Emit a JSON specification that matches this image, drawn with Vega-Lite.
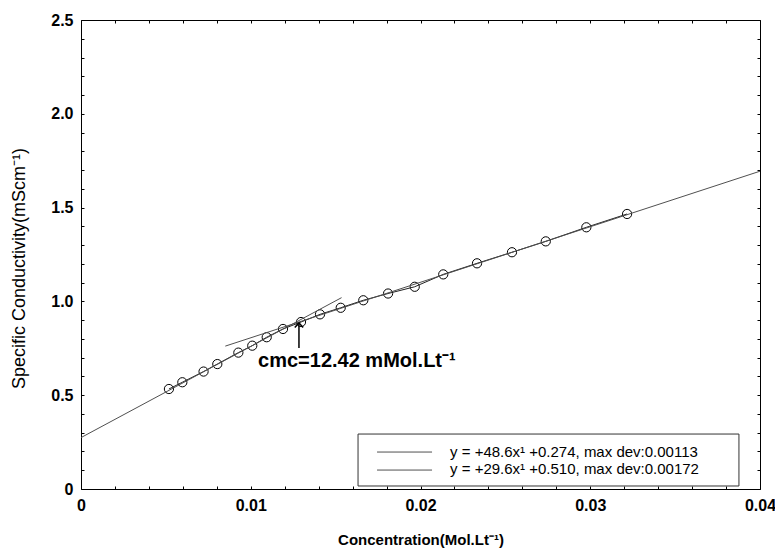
{
  "$schema": "https://vega.github.io/schema/vega-lite/v6.json",
  "width": 679,
  "height": 469,
  "autosize": {"type": "none"},
  "padding": {"left": 81, "top": 20, "right": 15, "bottom": 59},
  "background": "white",
  "config": {
    "view": {"stroke": null},
    "font": "Liberation Sans",
    "axis": {"grid": false, "domainColor": "#000", "tickColor": "#000", "labelColor": "#000", "titleColor": "#000", "labelOverlap": false, "labelFlush": false}
  },
  "datasets": {
    "points": [
      {"c": 0.00518, "k": 0.533},
      {"c": 0.00597, "k": 0.569},
      {"c": 0.00722, "k": 0.626},
      {"c": 0.00803, "k": 0.666},
      {"c": 0.00927, "k": 0.727},
      {"c": 0.01009, "k": 0.764},
      {"c": 0.01094, "k": 0.809},
      {"c": 0.0119, "k": 0.853},
      {"c": 0.01296, "k": 0.89},
      {"c": 0.01408, "k": 0.931},
      {"c": 0.0153, "k": 0.966},
      {"c": 0.01663, "k": 1.006},
      {"c": 0.01809, "k": 1.042},
      {"c": 0.01966, "k": 1.078},
      {"c": 0.02134, "k": 1.144},
      {"c": 0.02333, "k": 1.203},
      {"c": 0.02539, "k": 1.262},
      {"c": 0.02738, "k": 1.32},
      {"c": 0.02977, "k": 1.395},
      {"c": 0.03217, "k": 1.466}
    ],
    "fits": [
      {"fit": "A", "c": 0, "k": 0.274},
      {"fit": "A", "c": 0.01535, "k": 1.02},
      {"fit": "B", "c": 0.0085, "k": 0.7616},
      {"fit": "B", "c": 0.04, "k": 1.694}
    ],
    "legendBox": [
      {"x1": 0.01632, "x2": 0.03876, "y1": 0.016, "y2": 0.293}
    ],
    "legendLines": [
      {"row": "A", "c": 0.01744, "k": 0.197},
      {"row": "A", "c": 0.02068, "k": 0.197},
      {"row": "B", "c": 0.01744, "k": 0.101},
      {"row": "B", "c": 0.02068, "k": 0.101}
    ],
    "legendText": [
      {"c": 0.02174, "k": 0.197, "t": "y = +48.6x¹  +0.274, max dev:0.00113"},
      {"c": 0.02174, "k": 0.108, "t": "y = +29.6x¹  +0.510, max dev:0.00172"}
    ],
    "cmc": [
      {"c": 0.01043, "k": 0.65, "t": "cmc=12.42 mMol.Lt⁻¹"}
    ],
    "arrow": [
      {"c": 0.01284, "k1": 0.752, "k2": 0.885}
    ]
  },
  "layer": [
    {
      "data": {"name": "points"},
      "mark": {"type": "point", "shape": "circle", "filled": false, "size": 85, "stroke": "#000", "strokeWidth": 1, "opacity": 1},
      "encoding": {
        "x": {
          "field": "c", "type": "quantitative",
          "scale": {"domain": [0, 0.04], "nice": false, "zero": false},
          "axis": {
            "orient": "bottom",
            "values": [0, 0.002, 0.004, 0.006, 0.008, 0.01, 0.012, 0.014, 0.016, 0.018, 0.02, 0.022, 0.024, 0.026, 0.028, 0.03, 0.032, 0.034, 0.036, 0.038, 0.04],
            "labelExpr": "abs(datum.value*100-round(datum.value*100))<0.001 ? (datum.value==0 ? '0' : format(datum.value, '.2f')) : ''",
            "tickSize": -3,
            "labelPadding": 11,
            "labelFontSize": 16,
            "labelFontWeight": "bold",
            "title": "Concentration(Mol.Lt⁻¹)",
            "titleFontSize": 15,
            "titleFontWeight": "bold",
            "titlePadding": 19
          }
        },
        "y": {
          "field": "k", "type": "quantitative",
          "scale": {"domain": [0, 2.5], "nice": false, "zero": false},
          "axis": {
            "orient": "left",
            "values": [0, 0.1, 0.2, 0.3, 0.4, 0.5, 0.6, 0.7, 0.8, 0.9, 1.0, 1.1, 1.2, 1.3, 1.4, 1.5, 1.6, 1.7, 1.8, 1.9, 2.0, 2.1, 2.2, 2.3, 2.4, 2.5],
            "labelExpr": "abs(datum.value*2-round(datum.value*2))<0.001 ? (datum.value==0 ? '0' : format(datum.value, '.1f')) : ''",
            "tickSize": -3,
            "labelPadding": 11,
            "labelFontSize": 16,
            "labelFontWeight": "bold",
            "title": "Specific Conductivity(mScm⁻¹)",
            "titleFontSize": 18,
            "titleFontWeight": "normal",
            "titlePadding": 22,
            "titleY": 248
          }
        }
      }
    },
    {
      "data": {"name": "points"},
      "mark": {"type": "point", "opacity": 0},
      "encoding": {
        "x": {
          "field": "c", "type": "quantitative",
          "axis": {
            "orient": "top",
            "values": [0, 0.002, 0.004, 0.006, 0.008, 0.01, 0.012, 0.014, 0.016, 0.018, 0.02, 0.022, 0.024, 0.026, 0.028, 0.03, 0.032, 0.034, 0.036, 0.038, 0.04],
            "labels": false, "tickSize": -3, "title": null
          }
        },
        "y": {
          "field": "k", "type": "quantitative",
          "axis": {
            "orient": "right",
            "values": [0, 0.1, 0.2, 0.3, 0.4, 0.5, 0.6, 0.7, 0.8, 0.9, 1.0, 1.1, 1.2, 1.3, 1.4, 1.5, 1.6, 1.7, 1.8, 1.9, 2.0, 2.1, 2.2, 2.3, 2.4, 2.5],
            "labels": false, "tickSize": -3, "title": null
          }
        }
      }
    },
    {
      "data": {"name": "points"},
      "mark": {"type": "line", "color": "#222", "strokeWidth": 1},
      "encoding": {
        "x": {"field": "c", "type": "quantitative", "axis": null},
        "y": {"field": "k", "type": "quantitative", "axis": null}
      }
    },
    {
      "data": {"name": "fits"},
      "mark": {"type": "line", "color": "#505050", "strokeWidth": 1},
      "encoding": {
        "x": {"field": "c", "type": "quantitative", "axis": null},
        "y": {"field": "k", "type": "quantitative", "axis": null},
        "detail": {"field": "fit"}
      }
    },
    {
      "data": {"name": "legendBox"},
      "mark": {"type": "rect", "fill": "white", "stroke": "#333", "strokeWidth": 1},
      "encoding": {
        "x": {"field": "x1", "type": "quantitative", "axis": null},
        "x2": {"field": "x2"},
        "y": {"field": "y1", "type": "quantitative", "axis": null},
        "y2": {"field": "y2"}
      }
    },
    {
      "data": {"name": "legendLines"},
      "mark": {"type": "line", "color": "#505050", "strokeWidth": 1},
      "encoding": {
        "x": {"field": "c", "type": "quantitative", "axis": null},
        "y": {"field": "k", "type": "quantitative", "axis": null},
        "detail": {"field": "row"}
      }
    },
    {
      "data": {"name": "legendText"},
      "mark": {"type": "text", "align": "left", "baseline": "middle", "fontSize": 15, "font": "Liberation Sans", "color": "#000"},
      "encoding": {
        "x": {"field": "c", "type": "quantitative", "axis": null},
        "y": {"field": "k", "type": "quantitative", "axis": null},
        "text": {"field": "t"}
      }
    },
    {
      "data": {"name": "cmc"},
      "mark": {"type": "text", "align": "left", "baseline": "alphabetic", "fontSize": 20, "fontWeight": "bold", "font": "Liberation Sans", "color": "#000"},
      "encoding": {
        "x": {"field": "c", "type": "quantitative", "axis": null},
        "y": {"field": "k", "type": "quantitative", "axis": null},
        "text": {"field": "t"}
      }
    },
    {
      "data": {"name": "arrow"},
      "mark": {"type": "rule", "color": "#000", "strokeWidth": 1.5},
      "encoding": {
        "x": {"field": "c", "type": "quantitative", "axis": null},
        "y": {"field": "k1", "type": "quantitative", "axis": null},
        "y2": {"field": "k2"}
      }
    },
    {
      "data": {"name": "arrow"},
      "mark": {"type": "point", "shape": "M-1,1.1 L0,0 L1,1.1", "filled": false, "stroke": "#000", "strokeWidth": 1.5, "size": 70, "opacity": 1},
      "encoding": {
        "x": {"field": "c", "type": "quantitative", "axis": null},
        "y": {"field": "k2", "type": "quantitative", "axis": null}
      }
    }
  ],
  "resolve": {"axis": {"x": "independent", "y": "independent"}}
}
